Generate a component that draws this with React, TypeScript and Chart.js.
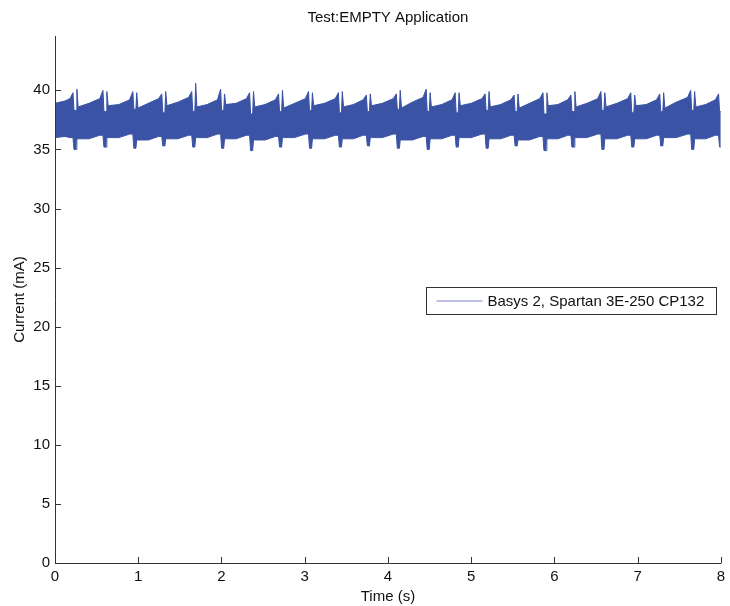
import React, { useEffect, useRef } from "react";
import { Chart, registerables } from "chart.js";

Chart.register(...registerables);

// ---- text ----
const chartTitle = "Test:EMPTY Application";
const xLabel = "Time (s)";
const yLabel = "Current (mA)";
const seriesLabel = "Basys 2, Spartan 3E-250 CP132";

// ---- axes ----
const xTicks = [0, 1, 2, 3, 4, 5, 6, 7, 8];
const yTicks = [0, 5, 10, 15, 20, 25, 30, 35, 40];
const xRange = [0, 8];
const yRange = [0, 44.6];

// ---- data (current band envelope, mA) ----
const startTimes = [0, 0.12, 0.18];
const startUpper = [38.9, 39.1, 39.3];
const startLower = [36.0, 36.1, 36.0];

const dropTimes = [0.228, 0.588, 0.947, 1.295, 1.655, 2.002, 2.35, 2.698, 3.058, 3.417, 3.753, 4.113, 4.472, 4.82, 5.18, 5.528, 5.875, 6.211, 6.571, 6.93, 7.278, 7.65, 7.985];
const peakBefore = [39.8, 40.0, 39.9, 39.7, 39.9, 40.1, 39.8, 39.7, 39.9, 39.8, 39.6, 39.7, 40.1, 39.8, 39.7, 39.6, 39.8, 39.6, 39.9, 39.8, 39.7, 40.0, 39.7];
const dropTop = [38.3, 38.2, 38.4, 38.1, 38.2, 38.3, 38.0, 38.2, 38.3, 38.1, 38.2, 38.4, 38.2, 38.1, 38.3, 38.2, 38.0, 38.2, 38.3, 38.1, 38.2, 38.3, 38.2];
const dropLow = [35.0, 35.2, 35.1, 35.3, 35.2, 35.1, 34.9, 35.2, 35.1, 35.2, 35.3, 35.1, 35.0, 35.2, 35.1, 35.3, 34.9, 35.2, 35.0, 35.2, 35.3, 35.0, 35.2];
const spikeHigh = [40.1, 39.9, 39.8, 39.9, 40.6, 39.7, 39.9, 40.0, 39.8, 39.9, 39.7, 40.0, 39.8, 39.8, 39.9, 39.7, 39.8, 39.9, 39.8, 39.6, 39.8, 39.9];
const upperAfter = [38.6, 38.7, 38.5, 38.7, 38.6, 38.8, 38.6, 38.5, 38.7, 38.6, 38.7, 38.5, 38.6, 38.7, 38.6, 38.5, 38.7, 38.6, 38.6, 38.7, 38.5, 38.6];
const upperMid = [38.9, 38.8, 38.9, 39.0, 38.8, 38.9, 38.8, 38.9, 38.9, 38.8, 38.9, 39.0, 38.8, 38.9, 38.8, 38.9, 38.8, 38.9, 38.9, 38.8, 39.0, 38.8];
const upperLate = [39.3, 39.2, 39.3, 39.4, 39.2, 39.3, 39.2, 39.3, 39.3, 39.2, 39.3, 39.4, 39.2, 39.3, 39.2, 39.3, 39.2, 39.3, 39.3, 39.2, 39.4, 39.2];
const lowerLevel = [35.9, 36.0, 35.8, 35.9, 36.0, 35.9, 35.8, 36.0, 35.9, 35.9, 36.0, 35.8, 35.9, 36.0, 35.9, 35.8, 35.9, 36.0, 35.9, 35.9, 36.0, 35.9];
const lowerLate = [36.2, 36.3, 36.1, 36.2, 36.3, 36.2, 36.1, 36.3, 36.2, 36.2, 36.3, 36.1, 36.2, 36.3, 36.2, 36.1, 36.2, 36.3, 36.2, 36.2, 36.3, 36.2];

// ---- style ----
const FONT = '"Liberation Sans", Arial, Helvetica, sans-serif';
const bandColor = "#3b53a4";
const axisColor = "#333333";
const textColor = "#111111";
const legendLineColor = "#a8a8e4";

type Pt = { x: number; y: number };

function buildSeries() {
  const upper: Pt[] = [];
  const lower: Pt[] = [];
  const add = (t: number, u: number, l: number) => {
    if (t < xRange[0] || t > xRange[1]) return;
    upper.push({ x: t, y: u });
    lower.push({ x: t, y: l });
  };
  startTimes.forEach((t, i) => add(t, startUpper[i], startLower[i]));
  dropTimes.forEach((d, k) => {
    const lv = k === 0 ? startLower[startLower.length - 1] : lowerLate[k - 1];
    add(d - 0.012, peakBefore[k], lv);
    add(d, dropTop[k], dropLow[k]);
    if (k < spikeHigh.length) {
      add(d + 0.025, dropTop[k], dropLow[k]);
      add(d + 0.035, spikeHigh[k], lowerLevel[k]);
      add(d + 0.05, upperAfter[k], lowerLevel[k]);
      add((d + dropTimes[k + 1]) / 2, upperMid[k], lowerLevel[k]);
      add(dropTimes[k + 1] - 0.05, upperLate[k], lowerLate[k]);
    } else {
      add(xRange[1], dropTop[k], dropLow[k]);
    }
  });
  return { upper, lower };
}

const decorPlugin = {
  id: "matlabDecor",
  afterDraw(chart: any) {
    const { ctx, chartArea, scales } = chart;
    const { left, right, top, bottom } = chartArea;
    const xs = scales.x;
    const ys = scales.y;
    ctx.save();
    ctx.strokeStyle = axisColor;
    ctx.lineWidth = 1;
    ctx.beginPath();
    ctx.moveTo(left + 0.5, top);
    ctx.lineTo(left + 0.5, bottom + 0.5);
    ctx.lineTo(right + 0.5, bottom + 0.5);
    xTicks.forEach((v) => {
      const px = Math.round(xs.getPixelForValue(v)) + 0.5;
      ctx.moveTo(px, bottom);
      ctx.lineTo(px, bottom - 6);
    });
    yTicks.forEach((v) => {
      const py = Math.round(ys.getPixelForValue(v)) + 0.5;
      ctx.moveTo(left, py);
      ctx.lineTo(left + 6, py);
    });
    ctx.stroke();

    ctx.fillStyle = textColor;
    ctx.font = `15px ${FONT}`;
    ctx.textAlign = "center";
    ctx.textBaseline = "middle";
    const cx = (left + right) / 2;
    ctx.fillText(chartTitle, cx, 18);
    ctx.fillText(xLabel, cx, 597);
    ctx.save();
    ctx.translate(20, (top + bottom) / 2);
    ctx.rotate(-Math.PI / 2);
    ctx.fillText(yLabel, 0, 0);
    ctx.restore();

    // legend box
    const bw = 290;
    const bh = 27;
    const bx = Math.round(right - 5 - bw) + 0.5;
    const by = Math.round((top + bottom) / 2 - bh / 2 + 1) + 0.5;
    ctx.fillStyle = "#ffffff";
    ctx.fillRect(bx, by, bw, bh);
    ctx.strokeStyle = axisColor;
    ctx.strokeRect(bx, by, bw, bh);
    const ly = by + bh / 2;
    ctx.strokeStyle = legendLineColor;
    ctx.lineWidth = 1.5;
    ctx.beginPath();
    ctx.moveTo(bx + 10, ly);
    ctx.lineTo(bx + 56, ly);
    ctx.stroke();
    ctx.fillStyle = textColor;
    ctx.textAlign = "left";
    ctx.fillText(seriesLabel, bx + 61, ly + 1);
    ctx.restore();
  },
};

export default function App() {
  const ref = useRef<HTMLCanvasElement | null>(null);
  useEffect(() => {
    if (!ref.current) return;
    const { upper, lower } = buildSeries();
    const chart = new Chart(ref.current, {
      type: "line",
      data: {
        datasets: [
          {
            label: seriesLabel + " (low)",
            data: lower,
            borderColor: bandColor,
            backgroundColor: bandColor,
            borderWidth: 1,
            pointRadius: 0,
            tension: 0,
            fill: false,
          },
          {
            label: seriesLabel,
            data: upper,
            borderColor: bandColor,
            backgroundColor: bandColor,
            borderWidth: 1,
            pointRadius: 0,
            tension: 0,
            fill: "-1",
          },
        ],
      },
      options: {
        responsive: false,
        animation: false,
        events: [],
        layout: { padding: { top: 36, right: 8, left: 0, bottom: 0 } },
        plugins: {
          legend: { display: false },
          title: { display: false },
          tooltip: { enabled: false },
        },
        scales: {
          x: {
            type: "linear",
            min: xRange[0],
            max: xRange[1],
            grid: { display: false, drawTicks: false },
            border: { display: false },
            afterBuildTicks: (s: any) => {
              s.ticks = xTicks.map((v) => ({ value: v }));
            },
            afterFit: (s: any) => {
              s.height = 43;
            },
            ticks: {
              padding: 5,
              color: textColor,
              font: { family: FONT, size: 15 },
              maxRotation: 0,
              callback: (v: any) => String(v),
            },
          },
          y: {
            type: "linear",
            min: yRange[0],
            max: yRange[1],
            grid: { display: false, drawTicks: false },
            border: { display: false },
            afterBuildTicks: (s: any) => {
              s.ticks = yTicks.map((v) => ({ value: v }));
            },
            afterFit: (s: any) => {
              s.width = 55;
            },
            ticks: {
              padding: 5,
              color: textColor,
              font: { family: FONT, size: 15 },
              callback: (v: any) => String(v),
            },
          },
        },
      },
      plugins: [decorPlugin],
    });
    return () => chart.destroy();
  }, []);
  return (
    <div style={{ position: "fixed", left: 0, top: 0, width: 730, height: 606, background: "#ffffff" }}>
      <canvas ref={ref} width={730} height={606} style={{ width: 730, height: 606, display: "block" }} />
    </div>
  );
}
